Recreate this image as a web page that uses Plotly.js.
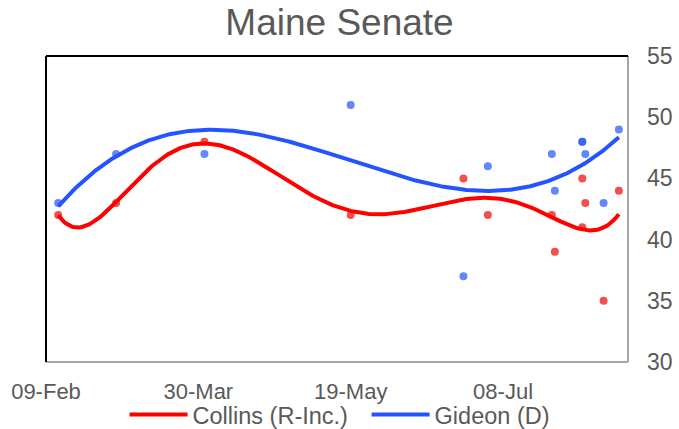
<!DOCTYPE html>
<html>
<head>
<meta charset="utf-8">
<script src="https://cdn.plot.ly/plotly-3.0.1.min.js"></script>
<style>html,body{margin:0;padding:0;background:#fff;}#chart{width:679px;height:429px;}</style>
</head>
<body>
<div id="chart"></div>
<script>
// Poll end dates
const pollDates = ['2020-02-13','2020-03-03','2020-04-01','2020-05-19','2020-06-25','2020-07-03',
  '2020-07-24','2020-07-25','2020-08-03','2020-08-03','2020-08-04','2020-08-10','2020-08-15'];
const collins = [42, 43, 48, 42, 45, 42, 42, 39, 45, 41, 43, 35, 44];
const gideon  = [43, 47, 47, 51, 37, 46, 47, 44, 48, 48, 47, 43, 49];
const seriesNames = ['Collins (R-Inc.)', 'Gideon (D)'];
const collinsOrder = 6;   // polynomial trendline order
const gideonOrder = 3;

const DAY = 86400000;
const t0 = Date.parse('2020-02-09T00:00:00Z');
const dayOf = d => (Date.parse(d + 'T00:00:00Z') - t0) / DAY;

function polyFit(xs, ys, order) {
  const c = 96, s = 100;
  const n = order + 1;
  const A = Array.from({length: n}, () => new Array(n + 1).fill(0));
  xs.forEach((x, k) => {
    const u = (x - c) / s;
    const pw = [];
    for (let i = 0; i < 2 * n; i++) pw.push(Math.pow(u, i));
    for (let i = 0; i < n; i++) {
      for (let j = 0; j < n; j++) A[i][j] += pw[i + j];
      A[i][n] += pw[i] * ys[k];
    }
  });
  for (let i = 0; i < n; i++) {
    let p = i;
    for (let r = i + 1; r < n; r++) if (Math.abs(A[r][i]) > Math.abs(A[p][i])) p = r;
    [A[i], A[p]] = [A[p], A[i]];
    for (let r = 0; r < n; r++) {
      if (r === i) continue;
      const f = A[r][i] / A[i][i];
      for (let k = i; k <= n; k++) A[r][k] -= f * A[i][k];
    }
  }
  const coef = A.map((row, i) => row[n] / row[i]);
  return x => { const u = (x - c) / s; let v = 0; for (let i = n - 1; i >= 0; i--) v = v * u + coef[i]; return v; };
}

const xd = pollDates.map(dayOf);
function trend(ys, order) {
  const f = polyFit(xd, ys, order);
  const lo = Math.min(...xd), hi = Math.max(...xd);
  const X = [], Y = [];
  for (let d = lo; d <= hi + 1e-9; d += 0.5) {
    X.push(new Date(t0 + d * DAY).toISOString());
    Y.push(f(d));
  }
  return {X, Y};
}
const trC = trend(collins, collinsOrder);
const trG = trend(gideon, gideonOrder);

const RED = 'rgb(255,0,0)', BLUE = 'rgb(36,84,255)';
const traces = [
  {x: pollDates, y: collins, type: 'scatter', mode: 'markers', showlegend: false,
   marker: {color: 'rgb(240,30,30)', size: 8, opacity: 0.78}, hoverinfo: 'skip'},
  {x: pollDates, y: gideon, type: 'scatter', mode: 'markers', showlegend: false,
   marker: {color: 'rgb(40,90,245)', size: 8, opacity: 0.72}, hoverinfo: 'skip'},
  {x: trC.X, y: trC.Y, type: 'scatter', mode: 'lines', name: seriesNames[0],
   line: {color: RED, width: 4}},
  {x: trG.X, y: trG.Y, type: 'scatter', mode: 'lines', name: seriesNames[1],
   line: {color: BLUE, width: 4}}
];

const GRAY = '#595959';
const FONT = 'Liberation Sans, Arial, sans-serif';
const layout = {
  width: 679, height: 429,
  margin: {l: 46, r: 51, t: 56, b: 67, autoexpand: false},
  paper_bgcolor: '#fff', plot_bgcolor: '#fff',
  font: {family: FONT, color: GRAY, size: 23},
  title: {text: 'Maine Senate', font: {family: FONT, size: 37, color: GRAY}, x: 0.5, xanchor: 'center', y: 0.948, yanchor: 'middle'},
  xaxis: {type: 'date', range: ['2020-02-09', '2020-08-18'], tick0: '2020-02-09', dtick: 50 * DAY,
    tickformat: '%d-%b', showgrid: false, zeroline: false, showline: false, ticks: '',
    ticklabelstandoff: 14, tickfont: {size: 22, color: GRAY}},
  yaxis: {range: [30, 55], dtick: 5, side: 'right', showgrid: false, zeroline: false, showline: false,
    ticks: '', ticklabelstandoff: 18, tickfont: {size: 23, color: GRAY}},
  legend: {orientation: 'h', x: 0.135, xanchor: 'left', y: -0.172, yanchor: 'middle',
    itemwidth: 58, entrywidth: 169, entrywidthmode: 'pixels',
    font: {size: 23.5, color: GRAY}, bgcolor: 'rgba(0,0,0,0)'},
  shapes: [
    {type: 'line', xref: 'paper', yref: 'paper', x0: 0, x1: 1, y0: 0, y1: 0, line: {color: '#a6a6a6', width: 2}},
    {type: 'line', xref: 'paper', yref: 'paper', x0: 1, x1: 1, y0: 0, y1: 1, line: {color: '#a6a6a6', width: 2}},
    {type: 'line', xref: 'paper', yref: 'paper', x0: 0, x1: 1, y0: 1, y1: 1, line: {color: '#000', width: 2}},
    {type: 'line', xref: 'paper', yref: 'paper', x0: 0, x1: 0, y0: 0, y1: 1, line: {color: '#000', width: 2}}
  ]
};
Plotly.newPlot('chart', traces, layout, {staticPlot: true, displayModeBar: false});
</script>
</body>
</html>
